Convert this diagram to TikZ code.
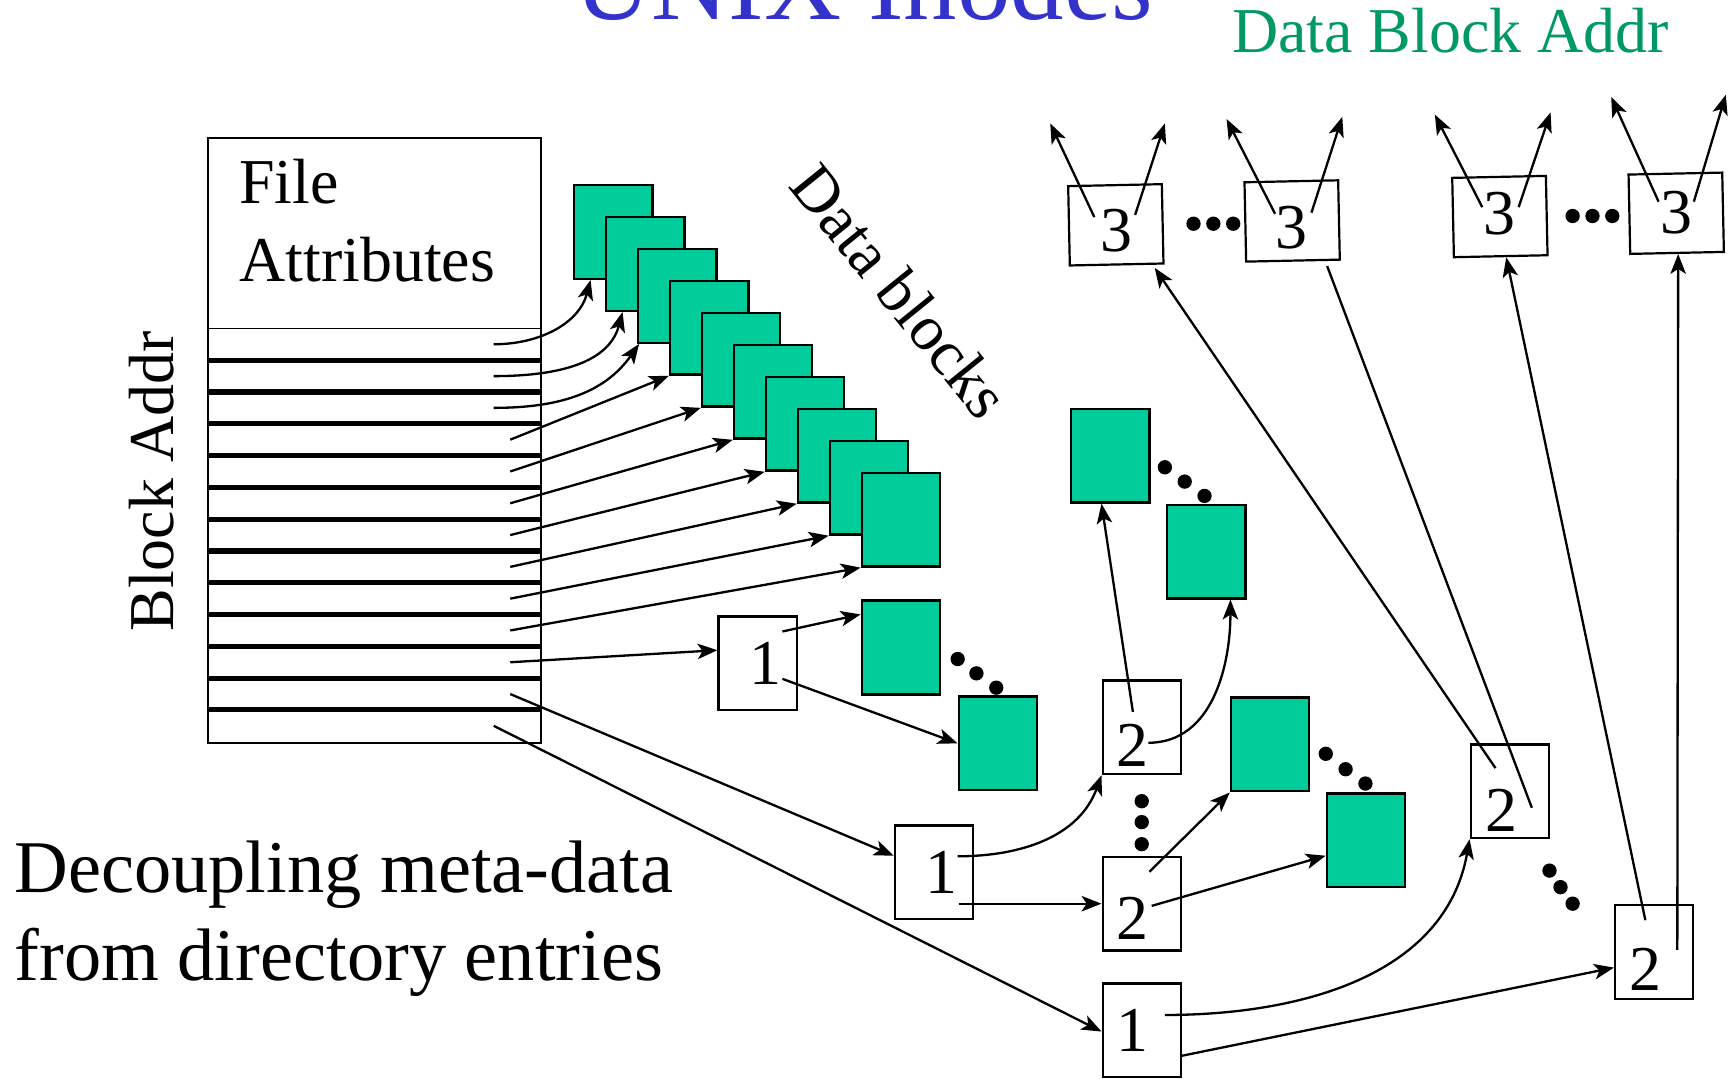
\documentclass[tikz,border=0pt]{standalone}
\usepackage{fontspec}
\setmainfont{Liberation Serif}
\usetikzlibrary{arrows.meta,calc}
\definecolor{blockgreen}{RGB}{0,204,153}
\definecolor{titleblue}{RGB}{51,51,204}
\definecolor{addrgreen}{RGB}{0,153,102}
\begin{document}
\begin{tikzpicture}[x=1pt,y=-1pt,
  blk/.style={draw=black, fill=blockgreen, line width=2.2pt, minimum width=71pt, minimum height=85pt, inner sep=0pt},
  ibox/.style={draw=black, fill=white, line width=2pt, minimum width=71pt, minimum height=85pt, inner sep=0pt},
  tbox/.style={ibox, minimum width=85pt, minimum height=72pt, rotate=1.2},
  num/.style={inner sep=0pt, font=\fontsize{58}{58}\selectfont},
  ptr/.style={line width=2.1pt, -{Stealth[length=18pt,width=14pt,inset=4.5pt]}},
  plainline/.style={line width=2.1pt},
  dot/.style={circle, fill=black, inner sep=0pt, minimum size=13pt},
  big/.style={inner sep=0pt, font=\fontsize{58}{70}\selectfont},
]
\useasboundingbox (0,0) rectangle (1568,979);
\clip (0,0) rectangle (1568,979);

% headings and captions
\node[inner sep=0pt, anchor=base west, text=titleblue, font=\fontsize{97}{97}\selectfont] (title) at (521,18) {UNIX Inodes};
\node[big, anchor=base west, text=addrgreen] (dbaddr) at (1118,48) {Data Block Addr};
\node[big, anchor=base west] (fa1) at (217,185) {File};
\node[big, anchor=base west] (fa2) at (217,255) {Attributes};
\node[big, anchor=base, rotate=90] (baddr) at (157,437) {Block Addr};
\node[big, rotate=-51] (dblocks) at (817,264) {Data blocks};
\node[inner sep=0pt, anchor=base west, font=\fontsize{67.5}{80}\selectfont] (cap1) at (13,810) {Decoupling meta-data};
\node[inner sep=0pt, anchor=base west, font=\fontsize{67.5}{80}\selectfont] (cap2) at (13,890) {from directory entries};

% the inode: attributes on top, then 13 address slots
\node[draw, line width=2pt, minimum width=302pt, minimum height=549pt, inner sep=0pt, anchor=north west] (inode) at (188,124) {};
\draw[line width=1.6pt] (inode.west |- 0,298) -- (inode.east |- 0,298);
\foreach \k in {1,...,12}
  \draw[line width=4.6pt] (inode.west |- 0,{298+28.85*\k}) -- (inode.east |- 0,{298+28.85*\k});
\foreach \i in {1,...,13}
  \coordinate (r\i) at (463,{298+28.85*(\i-0.5)});
\coordinate (q1) at (448,312.4);
\coordinate (q2) at (448,341.3);
\coordinate (q3) at (448,370.1);
\coordinate (q13) at (448,658.6);

% direct data blocks
\foreach \k in {1,...,10}
  \node[blk] (s\k) at ({556.5+29*(\k-1)},{210.5+29*(\k-1)}) {};

% index blocks
\node[ibox] (i1a) at (687.5,602) {};
\node[ibox] (i1b) at (847.5,791.5) {};
\node[ibox] (i1c) at (1036,935) {};
\node[ibox] (i2a) at (1036,660) {};
\node[ibox] (i2b) at (1036,820) {};
\node[ibox] (i2c) at (1370,718) {};
\node[ibox] (i2d) at (1501,864) {};
\node[tbox] (t3a) at (1012.5,204) {};
\node[tbox] (t3b) at (1172.5,200.5) {};
\node[tbox] (t3c) at (1361,196.5) {};
\node[tbox] (t3d) at (1521,193.5) {};

\node[num] at (695,602) {1};
\node[num] at (854,792) {1};
\node[num] at (1028,935) {1};
\node[num] at (1028,676) {2};
\node[num] at (1028,833) {2};
\node[num] at (1362,735) {2};
\node[num] at (1493,880) {2};
\node[num] at (1013,209) {3};
\node[num] at (1172,207) {3};
\node[num] at (1361,194) {3};
\node[num] at (1521,193) {3};

% indirect data blocks
\node[blk] (b1) at (817.5,587.5) {};
\node[blk] (b2) at (905.5,674.5) {};
\node[blk] (c1) at (1007.5,413.5) {};
\node[blk] (c2) at (1094.5,500.5) {};
\node[blk] (d1) at (1152.5,675.5) {};
\node[blk] (d2) at (1239.5,762.5) {};

% ellipses
\foreach \p in {(869,598),(886,611),(904,624),
                (1057,424),(1075,437),(1093,450),
                (1203,684),(1221,698),(1239,711),
                (1036,727),(1036,746),(1036,766),
                (1406,790),(1416,805),(1427,820),
                (1083,203),(1101,203),(1119,203),
                (1427,196),(1445,196),(1463,196)}
  \node[dot] at \p {};

% inode slots to direct blocks
\draw[ptr] (q1) to[out=0,in=-105] ($(s1.south west)+(16,0)$);
\draw[ptr] (q2) to[out=0,in=-105] ($(s2.south west)+(16,0)$);
\draw[ptr] (q3) to[out=0,in=-125] ($(s3.south west)+(2,0)$);
\foreach \k in {4,...,10}
  \draw[ptr] (r\k) -- (s\k.south west);

% single, double and triple indirect slots
\draw[ptr] (r11) -- ($(i1a.west)+(0,-12)$);
\draw[ptr] (r12) -- ($(i1b.west)+(0,-15)$);
\draw[ptr] (q13) -- ($(i1c.west)+(0,1)$);

% single indirect
\draw[ptr] ($(i1a.center)+(22.5,-29)$) -- ($(b1.west)+(0,-30)$);
\draw[ptr] ($(i1a.center)+(22.5,14)$) -- (b2.west);

% double indirect
\draw[ptr] ($(i1b.center)+(21.5,-14.5)$) to[out=0,in=-110] (i2a.south west);
\draw[ptr] ($(i1b.center)+(22.5,28.5)$) -- (i2b.west);
\draw[ptr] ($(i2a.center)+(-8,-14)$) -- ($(c1.south)+(-8,0)$);
\draw[ptr] ($(i2a.center)+(6,14)$) to[out=0,in=-90] ($(c2.south)+(22,0)$);
\draw[ptr] ($(i2b.center)+(7,-29)$) -- (d1.south west);
\draw[ptr] ($(i2b.center)+(9,2)$) -- ($(d2.west)+(0,14)$);

% triple indirect
\draw[ptr] ($(i1c.center)+(21,-14)$) to[out=0,in=-100] (i2c.south west);
\draw[ptr] ($(i1c.east)+(0,23)$) -- ($(i2d.west)+(0,14)$);
\draw[ptr] ($(i2c.center)+(-13,-21)$) -- ($(t3a.south east)+(-9,3)$);
\draw[plainline] ($(i2c.center)+(20,15)$) -- ($(t3b.south)+(31,4)$);
\draw[ptr] ($(i2d.center)+(-8,-29)$) -- ($(t3c.south)+(5,0)$);
\draw[ptr] ($(i2d.center)+(21,-2)$) -- ($(t3d.south)+(1,0)$);

% level-3 blocks point on to data block addresses
\draw[ptr] ($(t3a.center)+(-19.5,-7)$) -- ($(t3a.center)+(-59.5,-92)$);
\draw[ptr] ($(t3a.center)+(17.5,-9)$) -- ($(t3a.center)+(44.5,-92)$);
\draw[ptr] ($(t3b.center)+(-15.5,-6.5)$) -- ($(t3b.center)+(-59.5,-92.5)$);
\draw[ptr] ($(t3b.center)+(17.5,-7.5)$) -- ($(t3b.center)+(45.5,-94.5)$);
\draw[ptr] ($(t3c.center)+(-16,-8.5)$) -- ($(t3c.center)+(-59,-92.5)$);
\draw[ptr] ($(t3c.center)+(17,-8.5)$) -- ($(t3c.center)+(46,-94.5)$);
\draw[ptr] ($(t3d.center)+(-16,-10.5)$) -- ($(t3d.center)+(-59,-105.5)$);
\draw[ptr] ($(t3d.center)+(16,-10.5)$) -- ($(t3d.center)+(45,-107.5)$);
\end{tikzpicture}
\end{document}
